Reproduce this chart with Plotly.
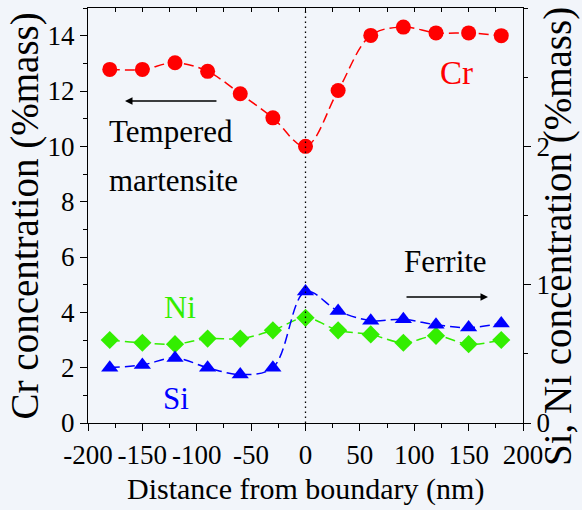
import plotly.graph_objects as go

# ---- data ----
distance = [-180, -150, -120, -90, -60, -30, 0, 30, 60, 90, 120, 150, 180]
cr = [12.78, 12.78, 13.02, 12.71, 11.90, 11.03, 10.00, 12.02, 14.01, 14.31, 14.10, 14.10, 14.00]
ni = [0.60, 0.58, 0.57, 0.61, 0.61, 0.67, 0.76, 0.67, 0.64, 0.58, 0.63, 0.57, 0.60]
si = [0.40, 0.42, 0.47, 0.40, 0.35, 0.40, 0.95, 0.81, 0.74, 0.75, 0.71, 0.69, 0.72]

x_ticks = [-200, -150, -100, -50, 0, 50, 100, 150, 200]
x_tick_labels = ["-200", "-150", "-100", "-50", "0", "50", "100", "150", "200"]
y_left_ticks = [0, 2, 4, 6, 8, 10, 12, 14]
y_right_ticks = [0, 1, 2]

RED = "#ff0000"
GREEN = "#33ee00"
BLUE = "#0000ff"
BG = "#f2f5fa"
FONT = "'Liberation Serif', 'Times New Roman', 'DejaVu Serif', serif"

fig = go.Figure()

fig.add_trace(go.Scatter(
    x=distance, y=cr, mode="lines+markers", name="Cr",
    line=dict(color=RED, width=1.5, dash="10px,5px", shape="spline", smoothing=1),
    marker=dict(symbol="circle", size=15, color=RED),
    yaxis="y"))
fig.add_trace(go.Scatter(
    x=distance, y=ni, mode="lines+markers", name="Ni",
    line=dict(color=GREEN, width=1.5, dash="10px,5px", shape="spline", smoothing=1),
    marker=dict(symbol="diamond", size=14, color=GREEN),
    yaxis="y2"))
fig.add_trace(go.Scatter(
    x=distance, y=si, mode="lines+markers", name="Si",
    line=dict(color=BLUE, width=1.5, dash="10px,5px", shape="spline", smoothing=1),
    marker=dict(symbol="triangle-up", size=15, color=BLUE),
    yaxis="y2"))

axis_common = dict(showgrid=False, zeroline=False, showline=True, linecolor="black",
                   linewidth=1.2, tickcolor="black", automargin=False,
                   tickfont=dict(family=FONT, size=27, color="black"))

fig.update_layout(
    width=582, height=510,
    margin=dict(l=88, r=59, t=8, b=87),
    paper_bgcolor=BG, plot_bgcolor=BG,
    showlegend=False,
    font=dict(family=FONT, color="black"),
    xaxis=dict(range=[-200, 200], tickvals=x_ticks, ticktext=x_tick_labels,
               ticks="outside", ticklen=7, tickangle=0,
               minor=dict(dtick=25, tick0=0, ticks="outside", ticklen=4, tickcolor="black"),
               **axis_common),
    xaxis2=dict(range=[-200, 200], overlaying="x", side="top", anchor="y",
                showticklabels=False, showgrid=False, zeroline=False, showline=True,
                linecolor="black", linewidth=1.2, ticks="inside", ticklen=4, automargin=False,
                tickcolor="black", dtick=25, tick0=0),
    yaxis=dict(range=[0, 15], tickvals=y_left_ticks, ticks="outside", ticklen=7,
               minor=dict(dtick=1, tick0=0, ticks="outside", ticklen=4, tickcolor="black"),
               **axis_common),
    yaxis2=dict(range=[0, 3], tickvals=y_right_ticks, overlaying="y", side="right",
                ticks="outside", ticklen=7,
                minor=dict(dtick=0.5, tick0=0, ticks="outside", ticklen=4, tickcolor="black"),
                **axis_common),
)

# dummy trace to activate top axis
fig.add_trace(go.Scatter(x=[None], y=[None], xaxis="x2", yaxis="y", showlegend=False, hoverinfo="skip"))

# vertical dotted boundary line
fig.add_shape(type="line", xref="x", yref="paper", x0=0, x1=0, y0=0, y1=1,
              line=dict(color="black", width=1.3, dash="1.5px,3.5px"))

ann = []
def txt(x, y, s, color="black", size=31):
    ann.append(dict(x=x, y=y, xref="x", yref="y", text=s, showarrow=False,
                    font=dict(family=FONT, size=size, color=color),
                    xanchor="center", yanchor="middle"))

txt(-123.7, 10.55, "Tempered")
txt(-121.8, 8.78, "martensite")
txt(138.4, 12.65, "Cr", RED, 33)
txt(-115.4, 4.19, "Ni", GREEN, 32)
txt(-119.0, 0.90, "Si", BLUE, 31)
txt(129.0, 5.82, "Ferrite")

# arrows
ann.append(dict(x=-166, y=11.64, ax=-80.5, ay=11.64, xref="x", yref="y", axref="x", ayref="y",
                text="", showarrow=True, arrowhead=2, arrowsize=1, arrowwidth=1.5, arrowcolor="black"))
ann.append(dict(x=167.8, y=4.55, ax=91.5, ay=4.55, xref="x", yref="y", axref="x", ayref="y",
                text="", showarrow=True, arrowhead=2, arrowsize=1, arrowwidth=1.5, arrowcolor="black"))

# axis titles
ann.append(dict(x=-0.145, y=0.5, xref="paper", yref="paper", text="Cr concentration (%mass)",
                textangle=-90, showarrow=False, font=dict(family=FONT, size=39),
                xanchor="center", yanchor="middle"))
ann.append(dict(x=1.08, y=0.45, xref="paper", yref="paper", text="Si, Ni concentration (%mass)",
                textangle=-90, showarrow=False, font=dict(family=FONT, size=39),
                xanchor="center", yanchor="middle"))
ann.append(dict(x=0.5, y=-0.16, xref="paper", yref="paper", text="Distance from boundary (nm)",
                showarrow=False, font=dict(family=FONT, size=30),
                xanchor="center", yanchor="middle"))

fig.update_layout(annotations=ann)

fig.write_html("out.html", config={"displayModeBar": False},
               post_script="document.body.style.margin='0px';document.body.style.background='%s';" % BG)
